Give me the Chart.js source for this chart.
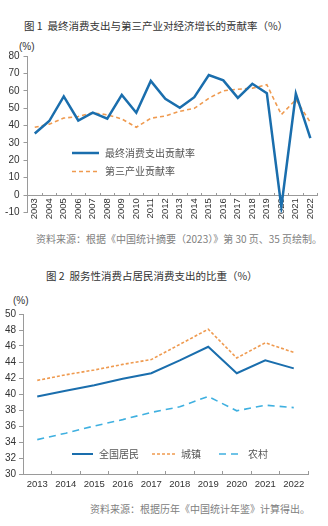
<!DOCTYPE html>
<html>
<head>
<meta charset="utf-8">
<script src="https://cdn.jsdelivr.net/npm/chart.js@4.4.0/dist/chart.umd.min.js"></script>
<style>
  body { margin: 0; width: 328px; height: 526px; background: #fff; position: relative; overflow: hidden;
         font-family: "Noto Sans CJK SC", "Liberation Sans", sans-serif; }
  .t { position: absolute; white-space: nowrap; color: #333; }
  .title { font-size: 10.5px; }
  .src { font-size: 10px; color: #808080; }
  .unit { font-family: "Liberation Sans", Arial, sans-serif; font-size: 10px; color: #333; }
  canvas { position: absolute; left: 0; }
</style>
</head>
<body>
<div class="t title" style="left:24px; top:18px;">图 1 &nbsp;最终消费支出与第三产业对经济增长的贡献率（%）</div>
<div class="t unit" style="left:19px; top:41px;">(%)</div>
<div style="position:absolute; left:0; top:30px; width:328px; height:200px;"><canvas id="c1"></canvas></div>
<div class="t src" style="left:36px; top:231px;">资料来源：根据《中国统计摘要（2023）》第 30 页、35 页绘制。</div>

<div class="t title" style="left:46px; top:268px;">图 2 &nbsp;服务性消费占居民消费支出的比重（%）</div>
<div class="t unit" style="left:13px; top:295px;">(%)</div>
<div style="position:absolute; left:0; top:290px; width:328px; height:210px;"><canvas id="c2"></canvas></div>
<div class="t src" style="left:90px; top:501px;">资料来源：根据历年《中国统计年鉴》计算得出。</div>

<script>
// 图1 数据
const years1 = ['2003','2004','2005','2006','2007','2008','2009','2010','2011','2012',
                '2013','2014','2015','2016','2017','2018','2019','2020','2021','2022'];
const consumption = [35.4, 42.6, 56.8, 42.9, 47.4, 44.0, 57.6, 47.4, 65.7, 55.4,
                     50.2, 56.3, 69.0, 66.0, 55.9, 64.0, 58.6, -6.8, 58.3, 32.8];
const tertiary = [39.0, 40.8, 44.3, 45.2, 47.3, 46.2, 43.8, 39.0, 44.2, 45.5,
                  48.2, 49.9, 55.7, 60.0, 60.9, 61.5, 63.5, 46.3, 54.9, 41.8];

// 图2 数据
const years2 = ['2013','2014','2015','2016','2017','2018','2019','2020','2021','2022'];
const national = [39.7, 40.4, 41.1, 41.9, 42.6, 44.2, 45.9, 42.6, 44.2, 43.2];
const urban = [41.7, 42.4, 43.0, 43.7, 44.3, 46.2, 48.1, 44.5, 46.4, 45.2];
const rural = [34.3, 35.1, 36.0, 36.8, 37.7, 38.4, 39.7, 37.9, 38.6, 38.3];

const fontAxis = { family: '"Liberation Sans", Arial, sans-serif', size: 10 };
const axisColor = '#9a9a9a';

// legend drawn inside the plot area at given spots
const innerLegend = {
  id: 'innerLegend',
  afterDraw(chart, args, opts) {
    const ctx = chart.ctx;
    ctx.save();
    opts.items.forEach(it => {
      const ds = chart.data.datasets[it.index];
      ctx.beginPath();
      ctx.strokeStyle = ds.borderColor;
      ctx.lineWidth = ds.borderWidth;
      ctx.setLineDash(ds.borderDash || []);
      ctx.moveTo(it.x, it.y);
      ctx.lineTo(it.x + it.w, it.y);
      ctx.stroke();
      ctx.setLineDash([]);
      ctx.fillStyle = '#555';
      ctx.font = '10px "Noto Sans CJK SC", sans-serif';
      ctx.textBaseline = 'middle';
      ctx.fillText(ds.label, it.x + it.w + 6, it.y);
    });
    ctx.restore();
  }
};

new Chart(document.getElementById('c1'), {
  type: 'line',
  data: {
    labels: years1,
    datasets: [
      { label: '最终消费支出贡献率', data: consumption, borderColor: '#1a6ead', borderWidth: 2.5,
        pointRadius: 0, tension: 0 },
      { label: '第三产业贡献率', data: tertiary, borderColor: '#ef9a4f', borderWidth: 1.6,
        borderDash: [4, 3], pointRadius: 0, tension: 0 }
    ]
  },
  options: {
    animation: false,
    responsive: true,
    maintainAspectRatio: false,
    layout: { padding: { top: 26, right: 10, bottom: 17.5, left: 0 } },
    plugins: {
      legend: { display: false },
      tooltip: { enabled: false },
      innerLegend: { items: [
        { index: 0, x: 72, y: 123, w: 27 },
        { index: 1, x: 72, y: 141.5, w: 27 }
      ] }
    },
    scales: {
      x: {
        position: { y: 0 },
        offset: true,
        grid: { drawOnChartArea: false, offset: true, tickLength: -3, color: axisColor },
        border: { color: axisColor },
        ticks: { color: '#333', font: { family: fontAxis.family, size: 9.5 }, minRotation: 90, maxRotation: 90,
                 padding: 6, autoSkip: false }
      },
      y: {
        min: -10, max: 80,
        afterFit: s => { s.width = 27.5; },
        grid: { drawOnChartArea: false, tickLength: 4, color: axisColor },
        border: { color: axisColor },
        ticks: { stepSize: 10, color: '#333', font: fontAxis, padding: 4 }
      }
    }
  },
  plugins: [innerLegend]
});

new Chart(document.getElementById('c2'), {
  type: 'line',
  data: {
    labels: years2,
    datasets: [
      { label: '全国居民', data: national, borderColor: '#1a6ead', borderWidth: 2,
        pointRadius: 0, tension: 0 },
      { label: '城镇', data: urban, borderColor: '#ef9a4f', borderWidth: 1.6,
        borderDash: [3, 2], pointRadius: 0, tension: 0 },
      { label: '农村', data: rural, borderColor: '#3fb0e0', borderWidth: 1.6,
        borderDash: [7, 5], pointRadius: 0, tension: 0 }
    ]
  },
  options: {
    animation: false,
    responsive: true,
    maintainAspectRatio: false,
    layout: { padding: { top: 24, right: 20, bottom: 10, left: 0 } },
    plugins: {
      legend: { display: false },
      tooltip: { enabled: false },
      innerLegend: { items: [
        { index: 0, x: 72, y: 164, w: 21 },
        { index: 1, x: 152, y: 164, w: 23 },
        { index: 2, x: 219, y: 164, w: 23 }
      ] }
    },
    scales: {
      x: {
        offset: true,
        afterFit: s => { s.height = 16; },
        grid: { drawOnChartArea: false, offset: true, tickLength: -3, color: axisColor },
        border: { color: axisColor },
        ticks: { color: '#333', font: { family: fontAxis.family, size: 9.5 }, maxRotation: 0,
                 padding: 8, autoSkip: false }
      },
      y: {
        min: 30, max: 50,
        afterFit: s => { s.width = 23; },
        grid: { drawOnChartArea: false, tickLength: 4, color: axisColor },
        border: { color: axisColor },
        ticks: { stepSize: 2, color: '#333', font: fontAxis, padding: 3 }
      }
    }
  },
  plugins: [innerLegend]
});
</script>
</body>
</html>
